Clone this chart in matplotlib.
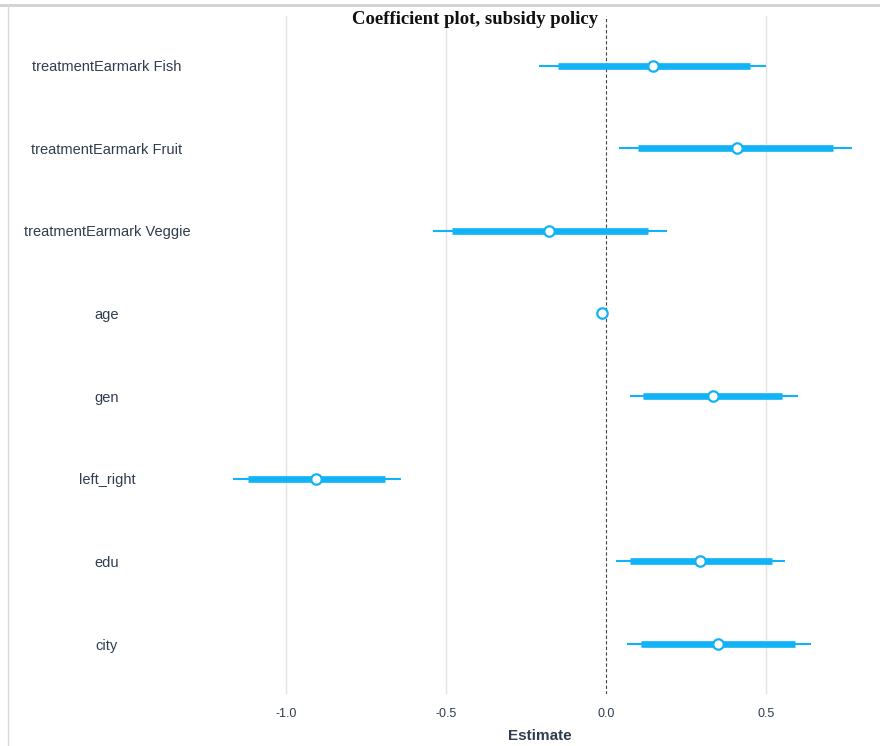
import numpy as np
import matplotlib.pyplot as plt
from matplotlib.lines import Line2D

# coefficient estimates with inner (thick) and outer (thin) intervals
terms = ["treatmentEarmark Fish", "treatmentEarmark Fruit", "treatmentEarmark Veggie",
         "age", "gen", "left_right", "edu", "city"]
estimate = [0.146, 0.41, -0.177, -0.012, 0.334, -0.905, 0.293, 0.35]
inner_lo = [-0.15, 0.10, -0.48, -0.016, 0.115, -1.12, 0.074, 0.11]
inner_hi = [0.45, 0.71, 0.13, -0.008, 0.55, -0.69, 0.52, 0.59]
outer_lo = [-0.21, 0.04, -0.54, -0.018, 0.075, -1.165, 0.03, 0.065]
outer_hi = [0.50, 0.77, 0.19, -0.006, 0.60, -0.64, 0.56, 0.64]
xticks = [-1.0, -0.5, 0.0, 0.5]
xtick_labels = ["-1.0", "-0.5", "0.0", "0.5"]

blue = "#12b3f6"
text_col = "#2f3d4f"

W, H = 880, 746
fig = plt.figure(figsize=(W / 100, H / 100), dpi=100)

# axes placed in pixel terms
left_px, right_px, top_px, bot_px = 200, 880, 16, 693.6
ax = fig.add_axes([left_px / W, 1 - bot_px / H, (right_px - left_px) / W, (bot_px - top_px) / H])

n = len(terms)
ypos = np.arange(n, 0, -1)

for g in xticks:
    if g == 0:
        ax.axvline(g, color="#444444", lw=0.8, ls=(0, (3, 2)), zorder=1)
    else:
        ax.axvline(g, color="#e4e4e4", lw=1.0, zorder=0)

ax.hlines(ypos, outer_lo, outer_hi, color=blue, lw=1.5, zorder=2)
ax.hlines(ypos, inner_lo, inner_hi, color=blue, lw=4.8, zorder=3)
ax.plot(estimate, ypos, "o", ms=7.5, mfc="white", mec=blue, mew=1.6, zorder=4)

ax.set_xlim((left_px - 606) / 320, (right_px - 606) / 320)
ax.set_ylim(0.4, n + 0.6)

ax.set_xticks(xticks)
ax.set_xticklabels(xtick_labels, fontsize=9, family="Liberation Sans", color=text_col)
ax.set_yticks(ypos)
ax.set_yticklabels(terms, fontsize=10.5, family="Liberation Sans", color=text_col, ha="center")
ax.tick_params(axis="y", length=0, pad=67)
ax.tick_params(axis="x", length=0, pad=10.5)
for s in ax.spines.values():
    s.set_visible(False)

ax.set_xlabel("Estimate", fontsize=11, fontweight="bold", family="Liberation Sans",
              color=text_col, labelpad=6)

fig.text(475 / W, 1 - 20 / H, "Coefficient plot, subsidy policy", ha="center", va="center",
         family="Liberation Serif", fontweight="bold", fontsize=13.5, color="#111111")

# screenshot frame edges
fig.add_artist(Line2D([0, 1], [1 - 5 / H, 1 - 5 / H], transform=fig.transFigure,
                      color="#d0d0d0", lw=2))
fig.add_artist(Line2D([8 / W, 8 / W], [0, 1 - 5 / H], transform=fig.transFigure,
                      color="#d8d8d8", lw=1))

fig.savefig("out.png", dpi=100)
